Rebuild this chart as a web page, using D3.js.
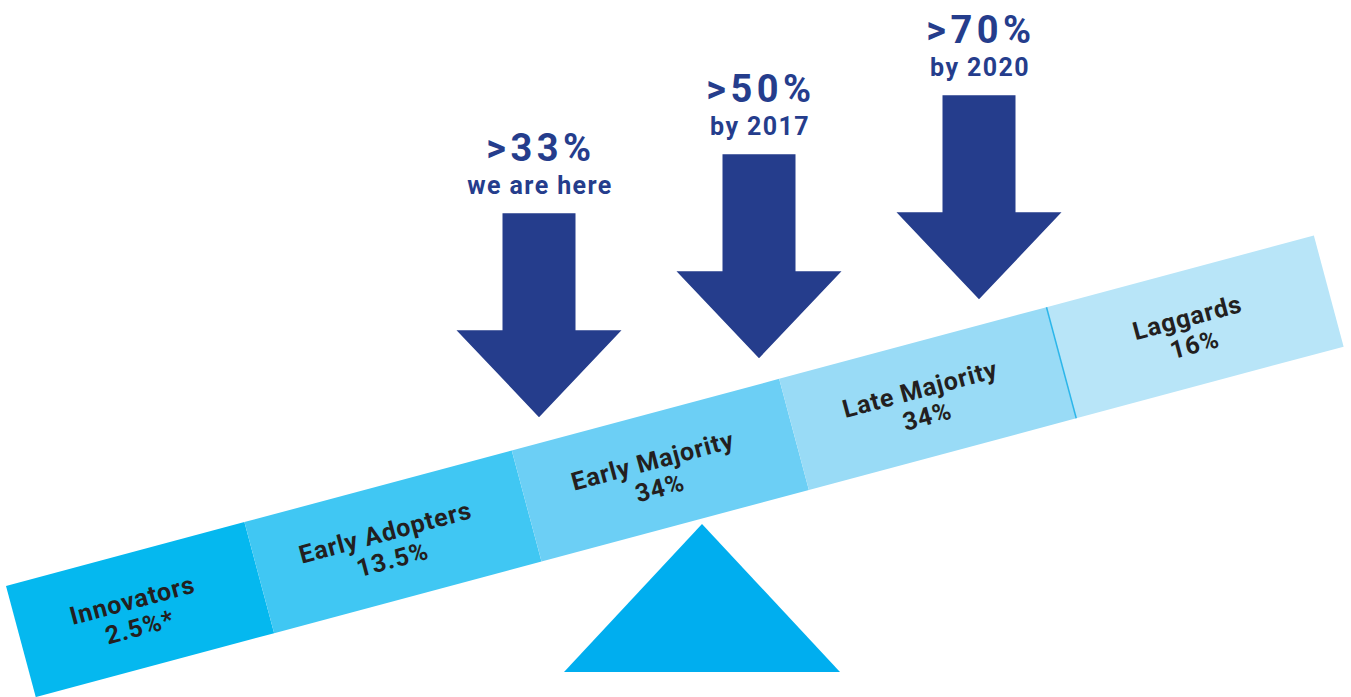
<!DOCTYPE html>
<html>
<head>
  <meta charset="UTF-8">
  <title>Adoption seesaw</title>
  <script src="https://d3js.org/d3.v7.min.js"></script>
  <style>
    body { margin: 0; background: #fff; }
    svg { display: block; font-family: Roboto, "DejaVu Sans", sans-serif; }
    .seg-label { fill: #231f20; font-weight: 700; font-size: 25px; letter-spacing: 0.9px; }
    .arrow { fill: #253d8c; }
    .arrow-big { fill: #253d8c; font-weight: 700; font-size: 38px; letter-spacing: 4.5px; }
    .arrow-note { fill: #253d8c; font-weight: 700; font-size: 25px; letter-spacing: 1.4px; }
  </style>
</head>
<body>
<svg width="1351" height="697"></svg>
<script>
  // adopter groups along the beam
  var categories = ["Innovators", "Early Adopters", "Early Majority", "Late Majority", "Laggards"]
  var shares = [2.5, 13.5, 34, 34, 16]
  var shareMarks = ["*", "", "", "", ""]
  var segColors = ["#05b8ef", "#40c7f3", "#6ccff5", "#99dbf6", "#b8e5f8"]

  // the three milestones above the beam
  var arrowValues = [33, 50, 70]
  var arrowNotes = ["we are here", "by 2017", "by 2020"]

  var svg = d3.select("svg")

  // beam geometry (tilted 15 degrees)
  var beamX = 6, beamY = 586, angle = -15, beamLen = 1354, beamThick = 115
  var rad = angle * Math.PI / 180

  function beamTopY(x) {
    return beamY + (x - beamX) * Math.tan(rad)
  }

  var band = d3.scaleBand()
    .domain(categories)
    .range([-30, beamLen])

  // fulcrum first, beam sits on it
  var fx = 702, fTop = 524, fBase = 672, fHalf = 138
  svg.append("path")
    .attr("d", "M" + (fx - fHalf) + "," + fBase + "L" + fx + "," + fTop + "L" + (fx + fHalf) + "," + fBase + "Z")
    .attr("fill", "#00aeef")

  var beam = svg.append("g")
    .attr("transform", "translate(" + beamX + "," + beamY + ") rotate(" + angle + ")")

  var segs = beam.selectAll("g.seg")
    .data(categories)
    .enter().append("g")
    .attr("class", "seg")

  segs.append("rect")
    .attr("x", function(d) { return Math.max(0, band(d)) })
    .attr("y", 0)
    .attr("width", function(d) { return band(d) + band.bandwidth() - Math.max(0, band(d)) })
    .attr("height", beamThick)
    .attr("fill", function(d, i) { return segColors[i] })

  // thin divider before the laggards
  beam.append("line")
    .attr("x1", band("Laggards")).attr("x2", band("Laggards"))
    .attr("y1", 0).attr("y2", beamThick)
    .attr("stroke", "#2cb6ea")
    .attr("stroke-width", 1.5)

  var labels = segs.append("text")
    .attr("class", "seg-label")
    .attr("text-anchor", "middle")
    .attr("transform", function(d) {
      var x0 = Math.max(0, band(d)), x1 = band(d) + band.bandwidth()
      return "translate(" + ((x0 + x1) / 2 - 5) + ",0)"
    })

  labels.append("tspan")
    .attr("x", 0).attr("y", 55)
    .text(function(d) { return d })

  labels.append("tspan")
    .attr("x", 0).attr("y", 83)
    .text(function(d, i) { return shares[i] + "%" + shareMarks[i] })

  // arrows
  var arrowX = d3.scalePoint()
    .domain(arrowValues)
    .range([539, 979])

  var shaftW = 73, headW = 165, shaftH = 117, headH = 87

  var arrows = svg.selectAll("g.arrow-g")
    .data(arrowValues)
    .enter().append("g")
    .attr("class", "arrow-g")
    .attr("transform", function(d) {
      var x = arrowX(d)
      var tip = beamTopY(x) - 26
      return "translate(" + x + "," + (tip - shaftH - headH) + ")"
    })

  arrows.append("path")
    .attr("class", "arrow")
    .attr("d", "M" + (-shaftW / 2) + ",0" +
      "L" + (shaftW / 2) + ",0" +
      "L" + (shaftW / 2) + "," + shaftH +
      "L" + (headW / 2) + "," + shaftH +
      "L0," + (shaftH + headH) +
      "L" + (-headW / 2) + "," + shaftH +
      "L" + (-shaftW / 2) + "," + shaftH + "Z")

  arrows.append("text")
    .attr("class", "arrow-big")
    .attr("text-anchor", "middle")
    .attr("x", 2)
    .attr("y", -52)
    .text(function(d) { return ">" + d + "%" })

  arrows.append("text")
    .attr("class", "arrow-note")
    .attr("text-anchor", "middle")
    .attr("x", 1)
    .attr("y", -19)
    .text(function(d, i) { return arrowNotes[i] })
</script>
</body>
</html>
